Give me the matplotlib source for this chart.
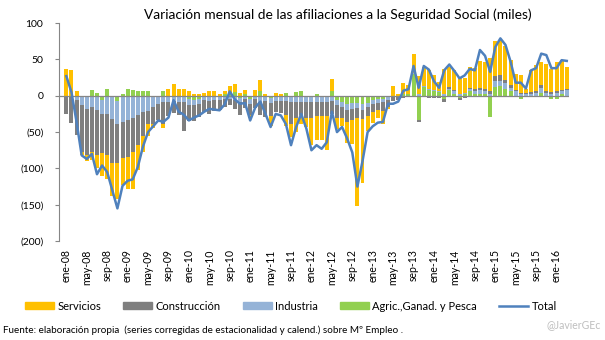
import numpy as np
import matplotlib.pyplot as plt
from matplotlib.patches import Patch
from matplotlib.lines import Line2D
from matplotlib.ticker import FuncFormatter

plt.rcParams['font.family'] = ['Lato', 'DejaVu Sans']

# variación mensual (miles), ene-08 .. mar-16
servicios = [37, 35, 6, -5, -8, -11, -18, -32, -32, -46, -50, -37, -44, -50, -34, -23, -16, -5, 0, -5,
             10, 16, 10, 9, 6, 3, 2, 4, 6, 6, 3, 3, 9, 11, 4, 6, -5, 8, 16, 2,
             -14, 4, 3, -14, -18, -20, -12, -12, -38, -33, -33, -47, 16, -16, -12, -29, -33, -121, -88, -21,
             -15, -11, -18, -2, 13, 3, 15, 12, 27, 25, 26, 25, 20, 12, 35, 28, 27, 23, 21, 29,
             28, 37, 38, 46, 49, 49, 47, 34, 22, 25, 5, 30, 36, 32, 38, 32, 40, 41, 30]
construccion = [-25, -38, -48, -64, -64, -62, -62, -54, -57, -60, -53, -50, -50, -48, -41, -32, -18, -23, -23, -30,
                -20, -17, -18, -40, -22, -22, -18, -16, -18, -15, -14, -10, -8, -12, -18, -12, -15, -12, -18, -22,
                -18, -15, -17, -20, -30, -22, -19, -23, -22, -20, -20, -20, -18, -17, -15, -16, -15, -14, -13, -12,
                -11, -10, -12, -10, -5, -4, -3, -2, 0, -3, 0, -3, -3, -3, -3, 2, 2, -3, -3, 2,
                3, 3, 3, 3, 6, 7, 5, 4, 2, 1, 1, 2, 2, 4, 2, 2, 2, 2, 2]
industria = [0, 0, -6, -13, -18, -16, -20, -19, -25, -32, -32, -36, -34, -30, -27, -23, -21, -16, -11, -9,
             -8, -7, -8, -8, -8, -7, -6, -6, -7, -6, -6, -5, -5, -6, -6, -5, -6, -5, -8, -7,
             -7, -7, -7, -7, -9, -8, -8, -8, -8, -8, -8, -8, -7, -7, -7, -8, -8, -7, -7, -6,
             -5, -5, -5, -4, -2, -2, 1, 0, 1, 2, 2, 2, 2, 2, 2, 2, 3, 2, 2, 2,
             5, 5, 4, 3, 9, 8, 7, 5, 6, 3, 3, 3, 4, 7, 4, 3, 4, 4, 8]
agricultura = [0, 0, 0, 0, 0, 8, 4, -6, 9, 0, -7, 3, 9, 8, 7, 7, 7, 0, 0, 7,
               0, 0, 0, 0, -5, -6, -5, 0, 0, 0, 0, 3, 4, 5, -3, 2, -5, 0, 6, 0,
               -3, 0, 0, 4, 0, 5, 6, 0, 0, 3, 0, 0, 7, -6, -8, -12, -10, -10, -12, -10,
               -6, -5, -4, -2, 0, 0, 2, 3, 30, -33, 12, 8, 6, 5, -5, 8, 3, -3, 2, 7,
               2, 3, 2, -29, 12, 13, 10, 6, 0, -4, -2, 0, 0, 4, 0, -4, -4, 2, 0]
total = [27, 5, -36, -82, -87, -80, -108, -96, -105, -130, -155, -124, -117, -115, -98, -70, -50, -42, -34, -36,
         -30, -6, -22, -26, -34, -30, -27, -22, -18, -19, -20, -12, 6, -5, -11, -10, -34, -16, -8, -25,
         -43, -25, -27, -39, -68, -43, -25, -45, -75, -68, -73, -64, -22, -50, -43, -59, -78, -125, -90, -50,
         -42, -37, -36, -11, -11, -8, 7, 9, 41, 11, 41, 36, 20, 11, 35, 43, 34, 24, 28, 37,
         35, 63, 55, 33, 67, 79, 70, 47, 18, 18, 10, 35, 38, 58, 56, 38, 38, 49, 48]

meses = ['ene', 'feb', 'mar', 'abr', 'may', 'jun', 'jul', 'ago', 'sep', 'oct', 'nov', 'dic']
etiquetas = [f'{meses[i % 12]}-{8 + i // 12:02d}' for i in range(len(total))]

# una categoria vacia delante de ene-08
x = np.arange(1, len(total) + 1)

fig = plt.figure(figsize=(6.05, 3.4), dpi=100)
ax = fig.add_axes([0.097, 0.291, 0.844, 0.641])

series = [(agricultura, '#92D050'), (industria, '#95B3D7'),
          (construccion, '#7F7F7F'), (servicios, '#FFC000')]
pos = np.zeros(len(total))
neg = np.zeros(len(total))
for vals, color in series:
    v = np.array(vals, dtype=float)
    base = np.where(v >= 0, pos, neg)
    ax.bar(x, v, bottom=base, width=0.78, color=color, linewidth=0, zorder=2)
    pos += np.where(v >= 0, v, 0)
    neg += np.where(v < 0, v, 0)

ax.axhline(0, color='#868686', lw=0.9, zorder=3)
ax.plot(x, total, color='#4F81BD', lw=1.8, zorder=4, solid_joinstyle='round')

ax.set_xlim(-0.5, len(total) + 0.5)
ax.set_ylim(-200, 100)
ax.set_yticks(range(-200, 101, 50))
ax.yaxis.set_major_formatter(FuncFormatter(lambda v, p: f'({abs(int(v))})' if v < 0 else f'{int(v)}'))
ax.tick_params(axis='y', direction='out', length=3, color='#868686', labelsize=7.5, pad=8)

idx = list(range(0, len(total), 4))
ax.set_xticks([x[i] for i in idx])
ax.set_xticklabels([etiquetas[i] for i in idx], rotation=90, fontsize=7.6)
ax.tick_params(axis='x', length=0, pad=6)

for s in ['top', 'right', 'bottom']:
    ax.spines[s].set_visible(False)
ax.spines['left'].set_color('#868686')

fig.text(0.558, 0.956, 'Variación mensual de las afiliaciones a la Seguridad Social (miles)',
         ha='center', va='center', fontsize=9.9)

handles = [Patch(color='#FFC000'), Patch(color='#7F7F7F'), Patch(color='#95B3D7'),
           Patch(color='#92D050'), Line2D([], [], color='#4F81BD', lw=1.8)]
names = ['Servicios', 'Construcción', 'Industria', 'Agric.,Ganad. y Pesca', 'Total']
fig.legend(handles, names, loc='center', bbox_to_anchor=(0.481, 0.1), ncol=5, frameon=False,
           fontsize=8, handlelength=2.6, handleheight=0.6, handletextpad=0.3, columnspacing=2.0)

fig.text(0.005, 0.028, 'Fuente: elaboración propia  (series corregidas de estacionalidad y calend.) sobre Mº Empleo .',
         fontsize=7.1, va='center')
fig.text(0.993, 0.045, '@JavierGEc', ha='right', va='center', fontsize=7.6, color='#BFBFBF')

fig.savefig('out.png', dpi=100)
